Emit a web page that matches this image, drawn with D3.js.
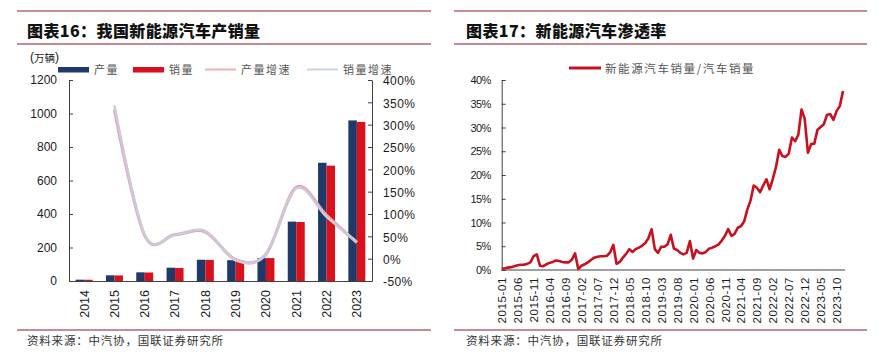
<!DOCTYPE html>
<html>
<head>
<meta charset="utf-8">
<script src="https://cdn.jsdelivr.net/npm/d3@7"></script>
<style>
  html, body { margin: 0; padding: 0; background: #fff; }
  svg { display: block; }
  .num { font-family: "Liberation Sans", Arial, sans-serif; fill: #1a1a1a; }
  .cjk { font-family: "Noto Sans CJK SC", sans-serif; }
</style>
</head>
<body>
<svg id="chart" width="879" height="355"></svg>
<script>
// ---------- Data: left chart (图表16) ----------
const years = ['2014','2015','2016','2017','2018','2019','2020','2021','2022','2023'];
const production = [7.85, 34.0, 51.7, 79.4, 127.0, 124.2, 136.6, 354.5, 705.8, 958.7];
const sales = [7.48, 33.1, 50.7, 77.7, 125.6, 120.6, 136.7, 352.1, 688.7, 949.5];
const prodGrowth = [null, 333.7, 51.7, 53.8, 59.9, -2.3, 9.9, 159.5, 96.9, 35.8];
const salesGrowth = [null, 342.9, 53.0, 53.3, 61.7, -4.0, 10.9, 157.5, 93.4, 37.9];
const leftTicks = [0, 200, 400, 600, 800, 1000, 1200];
const rightTicks = [-50, 0, 50, 100, 150, 200, 250, 300, 350, 400];

// ---------- Data: right chart (图表17) ----------
const penYears = ['2015','2016','2017','2018','2019','2020','2021','2022','2023'];
const penetration2015 = [0.3, 0.35, 0.5, 0.6, 0.8, 1.0, 1.1, 1.1, 1.3, 1.6, 2.9, 3.3];
const penetration2016 = [0.9, 0.8, 1.2, 1.5, 1.7, 2.0, 1.9, 1.7, 1.6, 1.6, 2.2, 3.5];
const penetration2017 = [0.2, 0.9, 1.2, 1.6, 2.1, 2.6, 2.8, 2.9, 2.9, 3.0, 3.7, 5.3];
const penetration2018 = [1.3, 1.7, 2.6, 3.4, 4.4, 3.8, 4.4, 4.7, 5.1, 5.7, 6.7, 8.6];
const penetration2019 = [4.4, 3.6, 4.9, 4.9, 5.4, 7.4, 4.5, 4.2, 3.6, 3.3, 3.6, 6.1];
const penetration2020 = [2.4, 4.2, 3.6, 3.5, 3.8, 4.5, 4.7, 5.0, 5.4, 6.2, 7.2, 8.6];
const penetration2021 = [7.2, 7.6, 8.9, 9.2, 10.2, 12.7, 14.6, 17.8, 17.3, 16.4, 17.8, 19.1];
const penetration2022 = [17.0, 19.2, 21.7, 25.3, 24.0, 23.8, 24.5, 27.9, 27.1, 28.5, 33.8, 31.8];
const penetration2023 = [24.7, 26.5, 26.6, 29.5, 30.1, 30.7, 32.7, 32.8, 31.6, 33.5, 34.5, 37.7];
const penTicks = [0, 5, 10, 15, 20, 25, 30, 35, 40];

const penRows = [penetration2015, penetration2016, penetration2017, penetration2018,
  penetration2019, penetration2020, penetration2021, penetration2022, penetration2023];
const months = [];
const penValues = [];
penYears.forEach((y, yi) => {
  penRows[yi].forEach((v, mi) => {
    months.push(y + '-' + String(mi + 1).padStart(2, '0'));
    penValues.push(v);
  });
});
const monthLabels = months.filter((m, i) => i % 5 === 0);

const svg = d3.select('#chart');
const RULE = '#8e1b2a';

// ---------- Frame: rules, titles, footers ----------
function frame(x0, x1, title, tx) {
  [11, 44, 330].forEach(y => {
    svg.append('line').attr('x1', x0).attr('x2', x1).attr('y1', y).attr('y2', y)
      .attr('stroke', RULE).attr('stroke-width', 1.2);
  });
  svg.append('text').attr('class', 'cjk').attr('x', tx).attr('y', 30)
    .attr('dominant-baseline', 'central')
    .style('font-size', '16px').style('font-weight', 900).style('letter-spacing', '0.4px')
    .attr('fill', '#111').text(title);
  svg.append('text').attr('class', 'cjk').attr('x', tx).attr('y', 340)
    .attr('dominant-baseline', 'central')
    .style('font-size', '11.5px').style('letter-spacing', '0.8px')
    .attr('fill', '#333').text('资料来源：中汽协，国联证券研究所');
}
frame(17, 431, '图表16：我国新能源汽车产销量', 27);
frame(454, 867, '图表17：新能源汽车渗透率', 466);

// ---------- Left chart ----------
const L = { left: 69, right: 372, top: 80, bottom: 281 };
const xBand = d3.scaleBand().domain(years).range([L.left, L.right]).padding(0);
const yL = d3.scaleLinear().domain([0, 1200]).range([L.bottom, L.top]);
const yR = d3.scaleLinear().domain([-50, 400]).range([L.bottom, L.top]);
const barW = 8.5;

const gBars = svg.append('g');
gBars.selectAll('rect.p').data(years).join('rect').attr('class', 'p')
  .attr('x', d => xBand(d) + xBand.bandwidth() / 2 - barW)
  .attr('width', barW)
  .attr('y', (d, i) => yL(production[i]))
  .attr('height', (d, i) => yL(0) - yL(production[i]))
  .attr('fill', '#1f3a68');
gBars.selectAll('rect.s').data(years).join('rect').attr('class', 's')
  .attr('x', d => xBand(d) + xBand.bandwidth() / 2)
  .attr('width', barW)
  .attr('y', (d, i) => yL(sales[i]))
  .attr('height', (d, i) => yL(0) - yL(sales[i]))
  .attr('fill', '#d8111c');

// axes
const axL = d3.axisLeft(yL).tickValues(leftTicks).tickSizeInner(-4).tickSizeOuter(0).tickPadding(12)
  .tickFormat(d3.format('d'));
const gL = svg.append('g').attr('transform', `translate(${L.left},0)`).call(axL);
gL.selectAll('text').attr('class', 'num').style('font-size', '12px');
const axR = d3.axisRight(yR).tickValues(rightTicks).tickSizeInner(-4).tickSizeOuter(0).tickPadding(11)
  .tickFormat(d => d + '%');
const gR = svg.append('g').attr('transform', `translate(${L.right},0)`).call(axR);
gR.selectAll('text').attr('class', 'num').style('font-size', '12px').style('letter-spacing', '0.4px')
  .attr('dy', '0.4em');
const axB = d3.axisBottom(xBand).tickSize(0).tickSizeOuter(0);
const gB = svg.append('g').attr('transform', `translate(0,${L.bottom})`).call(axB);
gB.selectAll('text').attr('class', 'num').style('font-size', '12.5px')
  .attr('text-anchor', 'end')
  .attr('transform', d => `translate(0,9) rotate(-90)`)
  .attr('x', 0).attr('y', 0).attr('dy', '0.35em');
[gL, gR, gB].forEach(g => {
  g.select('.domain').attr('stroke', '#404040');
  g.selectAll('.tick line').attr('stroke', '#404040');
});

// growth lines
const cx = d => xBand(d) + xBand.bandwidth() / 2;
const growthLine = arr => d3.line()
  .defined((d, i) => arr[i] !== null)
  .x(d => cx(d))
  .y((d, i) => yR(arr[i]))
  .curve(d3.curveCatmullRom.alpha(0));
svg.append('path').datum(years).attr('d', growthLine(prodGrowth))
  .attr('fill', 'none').attr('stroke', '#efa3a8').attr('stroke-width', 3.2);
svg.append('path').datum(years).attr('d', growthLine(salesGrowth))
  .attr('fill', 'none').attr('stroke', '#c6cbe0').attr('stroke-width', 2.4);

// unit label + legend
svg.append('text').attr('class', 'num').attr('x', 30).attr('y', 57)
  .attr('dominant-baseline', 'central').style('font-size', '11.5px')
  .selectAll('tspan').data(['(', '万辆', ')']).join('tspan')
  .attr('class', (d, i) => i === 1 ? 'cjk' : 'num')
  .style('font-size', (d, i) => i === 1 ? '10.5px' : '12px')
  .text(d => d);

const legL = [
  { t: '产量', x: 58, type: 'rect', c: '#1f3a68' },
  { t: '销量', x: 133, type: 'rect', c: '#d8111c' },
  { t: '产量增速', x: 205, type: 'line', c: '#f2b0b3' },
  { t: '销量增速', x: 307, type: 'line', c: '#c8d3e8' }
];
legL.forEach(d => {
  if (d.type === 'rect') {
    svg.append('rect').attr('x', d.x).attr('y', 67).attr('width', 31).attr('height', 5.5).attr('fill', d.c);
  } else {
    svg.append('line').attr('x1', d.x).attr('x2', d.x + 31).attr('y1', 69.5).attr('y2', 69.5)
      .attr('stroke', d.c).attr('stroke-width', 2);
  }
  svg.append('text').attr('class', 'cjk').attr('x', d.x + 36).attr('y', 68.5)
    .attr('dominant-baseline', 'central').style('font-size', '11px').style('letter-spacing', '1.5px')
    .attr('fill', '#555').text(d.t);
});

// ---------- Right chart ----------
const R = { left: 501.7, right: 843, top: 80, bottom: 270 };
const xP = d3.scalePoint().domain(months).range([R.left, R.right]);
const yP = d3.scaleLinear().domain([0, 40]).range([R.bottom, R.top]);

const axPY = d3.axisLeft(yP).tickValues(penTicks).tickSizeInner(-4).tickSizeOuter(0).tickPadding(11)
  .tickFormat(d => d + '%');
const gPY = svg.append('g').attr('transform', `translate(${R.left},0)`).call(axPY);
gPY.selectAll('text').attr('class', 'num').style('font-size', '11px').style('letter-spacing', '-0.6px');
const axPX = d3.axisBottom(xP).tickValues(monthLabels).tickSize(0).tickSizeOuter(0);
const gPX = svg.append('g').attr('transform', `translate(0,${R.bottom})`).call(axPX);
gPX.select('.domain').attr('d', `M${R.left},0H${R.right + 2}`);
gPX.selectAll('text').attr('class', 'num').style('font-size', '11.5px').style('letter-spacing', '0.6px')
  .attr('text-anchor', 'end')
  .attr('transform', 'translate(0,7) rotate(-90)')
  .attr('x', 0).attr('y', 0).attr('dy', '0.35em');
[gPY, gPX].forEach(g => {
  g.select('.domain').attr('stroke', '#404040');
  g.selectAll('.tick line').attr('stroke', '#404040');
});

svg.append('path').datum(months)
  .attr('d', d3.line().x(d => xP(d)).y((d, i) => yP(penValues[i])))
  .attr('fill', 'none').attr('stroke', '#c8101e').attr('stroke-width', 2.6)
  .attr('stroke-linejoin', 'round');

svg.append('line').attr('x1', 569).attr('x2', 601).attr('y1', 68).attr('y2', 68)
  .attr('stroke', '#c8101e').attr('stroke-width', 3);
svg.append('text').attr('class', 'cjk').attr('x', 605).attr('y', 68)
  .attr('dominant-baseline', 'central').style('font-size', '11.5px').style('letter-spacing', '1.6px')
  .attr('fill', '#555').text('新能源汽车销量/汽车销量');
</script>
</body>
</html>
